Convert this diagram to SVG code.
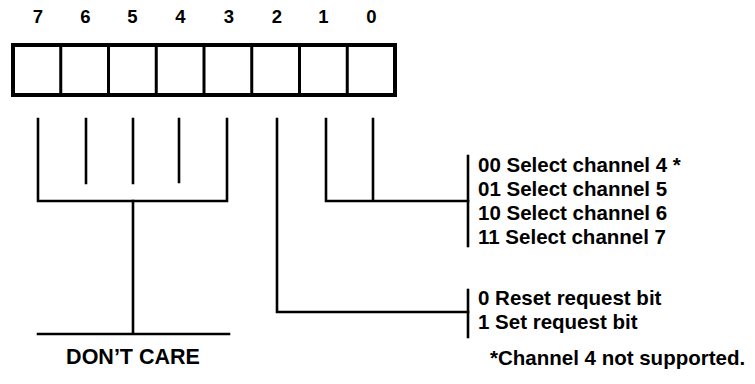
<svg xmlns="http://www.w3.org/2000/svg" width="755" height="384" viewBox="0 0 755 384">
<style>
  .t { font-family: "Liberation Sans", Arial, sans-serif; font-weight: bold; fill: #000; }
  .d { font-size: 18.5px; text-anchor: middle; }
  .r { font-size: 20.5px; }
  .ln { stroke: #000; stroke-width: 2.6; fill: none; stroke-linecap: square; }
  .box { stroke: #000; stroke-width: 4; fill: #fff; }
  .div { stroke: #000; stroke-width: 3; }
</style>
<rect width="755" height="384" fill="#fff"/>
<g id="register">
  <rect class="box" x="13" y="45" width="382" height="50"/>
  <line class="div" x1="60.75" y1="45" x2="60.75" y2="95"/>
  <line class="div" x1="108.5" y1="45" x2="108.5" y2="95"/>
  <line class="div" x1="156.25" y1="45" x2="156.25" y2="95"/>
  <line class="div" x1="204" y1="45" x2="204" y2="95"/>
  <line class="div" x1="251.75" y1="45" x2="251.75" y2="95"/>
  <line class="div" x1="299.5" y1="45" x2="299.5" y2="95"/>
  <line class="div" x1="347.25" y1="45" x2="347.25" y2="95"/>
</g>
<g id="bit-labels">
  <text class="t d" x="38" y="23">7</text>
  <text class="t d" x="85.5" y="23">6</text>
  <text class="t d" x="132.5" y="23">5</text>
  <text class="t d" x="180.5" y="23">4</text>
  <text class="t d" x="229" y="23">3</text>
  <text class="t d" x="277" y="23">2</text>
  <text class="t d" x="323.5" y="23">1</text>
  <text class="t d" x="371.5" y="23">0</text>
</g>
<g id="connectors">
  <path class="ln" d="M38 119 V201 H227 V119"/>
  <path class="ln" d="M86 119 V183 M133 119 V183 M179 119 V182"/>
  <path class="ln" d="M133 201 V334 M38 334 H229"/>
  <path class="ln" d="M277 119 V312 H468"/>
  <path class="ln" d="M326 119 V201 H468 M373 119 V201"/>
  <path class="ln" d="M468 156 V246"/>
  <path class="ln" d="M468 290 V337"/>
</g>
<g id="dont-care">
  <text class="t" x="133" y="364" font-size="21.5" text-anchor="middle">DON’T CARE</text>
</g>
<g id="channel-select">
  <text class="t r" x="478" y="172">00 Select channel 4 *</text>
  <text class="t r" x="478" y="196">01 Select channel 5</text>
  <text class="t r" x="478" y="220">10 Select channel 6</text>
  <text class="t r" x="478" y="244">11 Select channel 7</text>
</g>
<g id="request-bit">
  <text class="t r" x="478" y="305">0 Reset request bit</text>
  <text class="t r" x="478" y="329">1 Set request bit</text>
</g>
<g id="footnote">
  <text class="t r" x="490" y="365">*Channel 4 not supported.</text>
</g>
</svg>
